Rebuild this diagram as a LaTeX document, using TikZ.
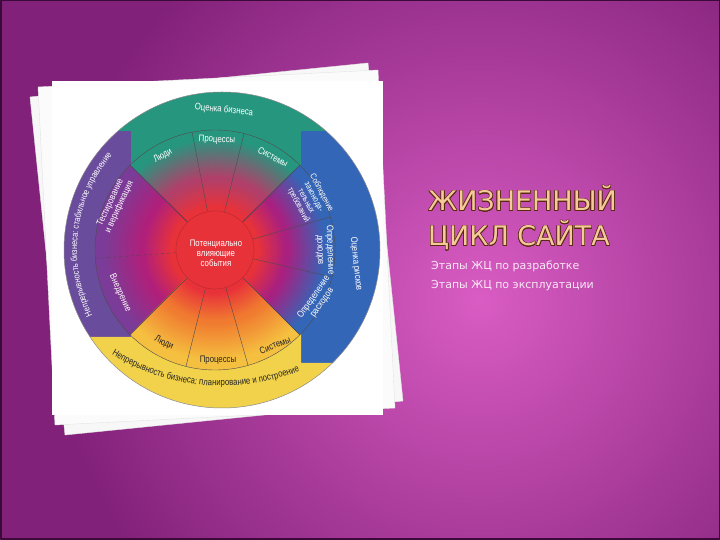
\documentclass[tikz,border=0pt]{standalone}
\usepackage{fontspec}
\setmainfont{Liberation Sans}
\newfontfamily\wheelfont{Liberation Sans}[FakeStretch=0.82]
\newfontfamily\titlefont{DejaVu Sans}
\usepackage{xcolor}
\usepackage[copies]{contour}
\usetikzlibrary{decorations.text}
\contourlength{0.6pt}
\definecolor{bgdark}{HTML}{82217A}
\definecolor{bglight}{HTML}{D95CC3}
\definecolor{bgedge}{HTML}{3C0A38}
\definecolor{paperback}{HTML}{F7F7F7}
\definecolor{papermid}{HTML}{FBFBFB}
\definecolor{papershade}{HTML}{E4E4E4}
\definecolor{tealband}{HTML}{27967F}
\definecolor{blueband}{HTML}{3466B8}
\definecolor{purpleband}{HTML}{6A4C9C}
\definecolor{yellowband}{HTML}{F2D24A}
\definecolor{coreRed}{HTML}{E8323A}
\definecolor{tealmid}{HTML}{B0406A}
\definecolor{bluemid}{HTML}{A82080}
\definecolor{purplemid}{HTML}{B0207A}
\definecolor{purpleedge}{HTML}{7A3C98}
\definecolor{yellowedge}{HTML}{F5C040}
\definecolor{yellowmid}{HTML}{F07A30}
\definecolor{titlefill}{HTML}{F5C99A}
\definecolor{titleedge}{HTML}{5A2A10}
\definecolor{subtext}{HTML}{F8E8F4}
% one quarter of the inner disc, shaded from the red core outwards
\newcommand\sectorfill[4]{%
  \begin{scope}
    \clip (215,290) -- +(#1:125) arc[start angle=#1, end angle=#2, radius=125] -- cycle;
    \foreach \r in {120,118,...,40}{
      \pgfmathsetmacro\pedge{max(0,min(100,(\r-74)*100/38))}
      \pgfmathsetmacro\pmid{max(0,min(100,(\r-44)*100/28))}
      \colorlet{ringmid}{#4!\pmid!coreRed}
      \fill[#3!\pedge!ringmid] (215,290) circle (\r);
    }
  \end{scope}}

\begin{document}
\begin{tikzpicture}[line cap=round,line join=round,x=1pt,y=1pt,
    lbl/.style={font=\wheelfont\fontsize{9.5}{10}\selectfont,text=white,align=center,inner sep=0pt},
    lblsmall/.style={lbl,font=\wheelfont\fontsize{8.5}{8.7}\selectfont},
    lbldark/.style={lbl,text=black!85},
    divider/.style={line width=0.4pt,color=black!70}]
    \useasboundingbox (0,0) rectangle (720,540);
    % background
    \fill[bgdark] (0,0) rectangle (720,540);
    \begin{scope}
        \clip (0,0) rectangle (720,540);
        \shade[inner color=bglight, outer color=bgdark] (480,240) circle (430);
    \end{scope}
    \draw[line width=1.5pt, color=bgedge] (0.75,0.75) rectangle (719.25,539.25);
    % paper sheets
    \draw[fill=paperback, draw=papershade, line width=0.4pt] (30,443) -- (368,477) -- (403,139) -- (65,105) -- cycle;
    \draw[fill=papermid, draw=papershade, line width=0.4pt] (38,453) -- (378,470) -- (395,132) -- (55,115) -- cycle;
    \fill[white] (52,125) rectangle (383,459);
    % outer band
    \coordinate (wheelc) at (222,290);
    \coordinate (hub) at (215,290);
    \begin{scope}
        \clip (wheelc) circle (158);
        \fill[tealband] (40,409) -- (131,409) -- (131,290) -- (301,290) -- (301,409) -- (400,409) -- (400,460) -- (40,460) -- cycle;
        \fill[blueband] (301,409) rectangle (400,177);
        \fill[purpleband] (40,409) rectangle (131,203);
        \fill[yellowband] (40,203) -- (131,203) -- (131,290) -- (301,290) -- (301,177) -- (400,177) -- (400,120) -- (40,120) -- cycle;
    \end{scope}
    \draw[line width=0.5pt, color=black!45] (wheelc) circle (158);
    % inner disc
    \sectorfill{45}{135}{tealband}{tealmid}
    \sectorfill{135}{225}{purpleedge}{purplemid}
    \sectorfill{225}{315}{yellowedge}{yellowmid}
    \sectorfill{-45}{45}{blueband}{bluemid}
    \foreach \a in {45,135,225,315,101,76,256,286,16,-13}
        \draw[divider] (hub) +(\a:39) -- +(\a:120);
    \draw[divider, dashed] (hub) +(184:39) -- +(184:120);
    \draw[divider] (hub) circle (120);
    \draw[fill=coreRed, draw=coreRed!85!black, line width=0.6pt] (hub) circle (39);
    % labels
    \draw[color=white] (224,430) node[lbl, rotate=-6] (evalbiz) {Оценка бизнеса};
    \draw[color=white] (163,384) node[lbl, rotate=30] (peopletop) {Люди};
    \draw[color=white] (217,400) node[lbl, rotate=-3] (proctop) {Процессы};
    \draw[color=white] (273,383) node[lbl, rotate=-28] (systop) {Системы};
    \draw[color=white] (310,341) node[lblsmall, rotate=-62] (compliance) {Соблюдение\\законода-\\тельных\\требований};
    \draw[color=white] (325,290) node[lbl, rotate=-88] (income) {Определение\\доходов};
    \draw[color=white] (318,240) node[lbl, rotate=55] (costs) {Определение\\расходов};
    \draw[color=white] (356,276) node[lbl, rotate=-84] (riskeval) {Оценка рисков};
    \draw[color=white] (115,335) node[lbl, rotate=65] (testing) {Тестирование\\и верификация};
    \draw[color=white] (120,247) node[lbl, rotate=-65] (deploy) {Внедрение};
    \draw[color=black] (164,197) node[lbldark, rotate=-25] (peoplebot) {Люди};
    \draw[color=black] (218,180) node[lbldark] (procbot) {Процессы};
    \draw[color=black] (275,195) node[lbldark, rotate=22] (sysbot) {Системы};
    \draw[color=white] (216,287) node[lbl] (core) {Потенциально\\влияющие\\события};
    \path[decorate, decoration={text along path, text align=center, text color=white,
        text={|\wheelfont\fontsize{9}{9}\selectfont|Непрерывность бизнеса: стабильное управление}}]
        (94,221.9) arc[start angle=208, end angle=138, radius=145];
    \path[decorate, decoration={text along path, text align=center, text color=black!85,
        text={|\wheelfont\fontsize{9.5}{10}\selectfont|Непрерывность бизнеса: планирование и построение}}]
        (111.2,185.8) arc[start angle=238, end angle=292, radius=209];
    % title
    \draw (428,329) node[anchor=base west, inner sep=0pt, text=titlefill, font=\titlefont\fontsize{27}{30}\selectfont] (titleA) {\contour{titleedge}{ЖИЗНЕННЫЙ}};
    \draw (428,294) node[anchor=base west, inner sep=0pt, text=titlefill, font=\titlefont\fontsize{27}{30}\selectfont] (titleB) {\contour{titleedge}{ЦИКЛ САЙТА}};
    \draw (431,270) node[anchor=base west, inner sep=0pt, text=subtext, font=\titlefont\fontsize{11}{12}\selectfont] (stageA) {Этапы ЖЦ по разработке};
    \draw (431,251) node[anchor=base west, inner sep=0pt, text=subtext, font=\titlefont\fontsize{11}{12}\selectfont] (stageB) {Этапы ЖЦ по эксплуатации};
\end{tikzpicture}
\end{document}
